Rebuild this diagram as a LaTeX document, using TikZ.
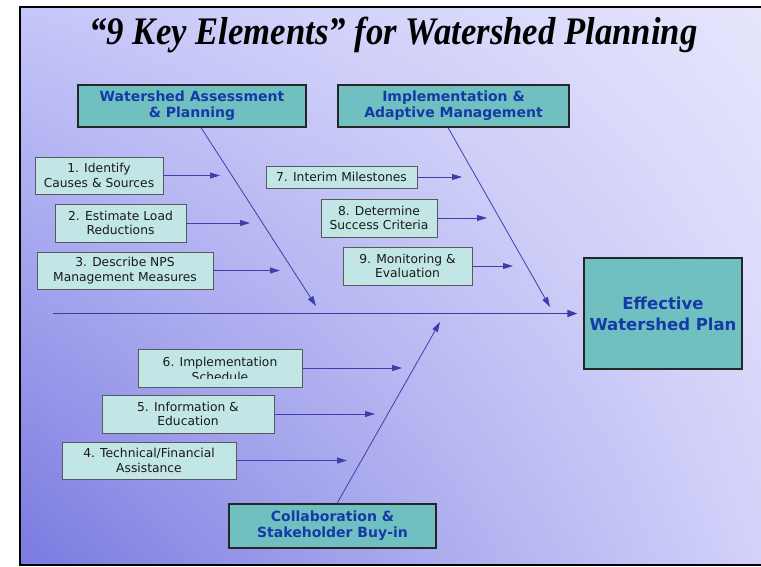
\documentclass[tikz,border=0pt]{standalone}
\usepackage{fontspec}
\setmainfont{DejaVu Sans}
\newfontfamily\titlefont{Liberation Serif}
\usetikzlibrary{arrows.meta,shadings}
\definecolor{hdrfill}{RGB}{112,192,194}
\definecolor{boxfill}{RGB}{194,230,230}
\definecolor{hdrtext}{RGB}{22,58,165}
\definecolor{arrowc}{RGB}{62,62,172}
\definecolor{spinec}{RGB}{60,60,160}
\definecolor{bgTL}{RGB}{198,198,249}
\definecolor{bgTR}{RGB}{230,230,252}
\definecolor{bgBL}{RGB}{122,122,224}
\definecolor{bgBR}{RGB}{212,212,251}
\begin{document}
\begin{tikzpicture}[x=1pt,y=-1pt,
  hdr/.style={draw=black!85, line width=1.2pt, fill=hdrfill, text=hdrtext,
    font=\bfseries\fontsize{14}{16}\selectfont, align=center, inner sep=0pt},
  item/.style={draw=black!65, line width=0.8pt, fill=boxfill, text=black!90,
    font=\fontsize{12.3}{14.5}\selectfont, align=center, inner sep=0pt},
  itemtext/.style={text=black!90, font=\fontsize{12.3}{14.5}\selectfont, align=center, inner sep=0pt},
  arr/.style={draw=arrowc, line width=0.8pt, -{Triangle[length=10pt,width=6pt]}},
  spine/.style={draw=spinec, line width=1.6pt, -{Triangle[length=10pt,width=7pt]}}]
\useasboundingbox (0,0) rectangle (761,566);
\clip (0,0) rectangle (761,566);
% slide background
\shade[shading=bilinear interpolation, upper left=bgTL, upper right=bgTR, lower left=bgBL, lower right=bgBR]
  (20,7) rectangle (780,565);
\draw[line width=2pt, black] (20,7) rectangle (780,565);
% title
\node[anchor=base, inner sep=0pt, font=\titlefont\bfseries\itshape\fontsize{39}{44}\selectfont] (title)
  at (393.5,44) {\scalebox{0.89}[1]{“9 Key Elements” for Watershed Planning}};
% header boxes
\node[hdr, minimum width=228pt, minimum height=42pt] (A) at (192,106) {Watershed Assessment\\\& Planning};
\node[hdr, minimum width=231pt, minimum height=42pt] (B) at (453.5,106) {Implementation \&\\Adaptive Management};
\node[hdr, minimum width=207pt, minimum height=44pt] (D) at (332.5,526) {Collaboration \&\\Stakeholder Buy-in};
\node[hdr, minimum width=158pt, minimum height=111pt, font=\bfseries\fontsize{16.5}{21}\selectfont] (C) at (663,313.5) {Effective\\Watershed Plan};
% item boxes
\node[item, minimum width=128pt, minimum height=37pt] (b1) at (99,175.5) {1. Identify\\Causes \& Sources};
\node[item, minimum width=131pt, minimum height=38pt] (b2) at (120.5,223) {2. Estimate Load\\Reductions};
\node[item, minimum width=176pt, minimum height=37pt] (b3) at (125,270.5) {3. Describe NPS\\Management Measures};
\node[item, minimum width=151pt, minimum height=22pt] (b7) at (341.5,177) {7. Interim Milestones};
\node[item, minimum width=116pt, minimum height=38pt] (b8) at (379,218) {8. Determine\\Success Criteria};
\node[item, minimum width=129pt, minimum height=38pt] (b9) at (407.5,266) {9. Monitoring \&\\Evaluation};
\node[item, minimum width=164pt, minimum height=38pt] (b6) at (220,368) {};
\begin{scope}
  \clip (138,349) rectangle (302,378.5);
  \node[itemtext] (t6) at (220,369.5) {6. Implementation\\Schedule};
\end{scope}
\node[item, minimum width=172pt, minimum height=38pt] (b5) at (188,414) {5. Information \&\\Education};
\node[item, minimum width=174pt, minimum height=37pt] (b4) at (149,460.5) {4. Technical/Financial\\Assistance};
% arrow end points
\coordinate (e1) at (220,175.5);
\coordinate (e2) at (250,223);
\coordinate (e3) at (280,270.5);
\coordinate (e7) at (462,177);
\coordinate (e8) at (487,218);
\coordinate (e9) at (513,266);
\coordinate (e6) at (402,368);
\coordinate (e5) at (375,414);
\coordinate (e4) at (347,460.5);
\coordinate (tA) at (316,306);
\coordinate (tB) at (550,307);
\coordinate (tD) at (440,322);
\coordinate (s0) at (53,313.5);
% connectors
\foreach \i in {1,2,3,7,8,9,5,4} {\draw[arr] (b\i.east) -- (e\i);}
\draw[arr] (b6.east) -- (e6);
\draw[arr] ([xshift=9pt]A.south) -- (tA);
\draw[arr] ([xshift=-5.5pt]B.south) -- (tB);
\draw[arr] ([xshift=4.5pt]D.north) -- (tD);
\draw[spine] (s0) -- ([xshift=-6pt]C.west);
\end{tikzpicture}
\end{document}
